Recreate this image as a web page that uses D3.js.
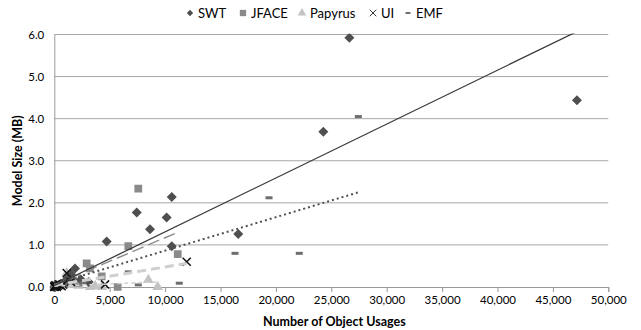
<!DOCTYPE html>
<html>
<head>
<meta charset="utf-8">
<script src="https://cdn.jsdelivr.net/npm/d3@7"></script>
<style>
  body { margin: 0; background: #fff; }
  svg text { font-family: Lato, "Open Sans", sans-serif; fill: #000; }
</style>
</head>
<body>
<svg id="chart" width="641" height="330"></svg>
<script>
// series points [objectUsages, sizeMB]
const swt = [[0, 0], [60, 0.0], [120, 0.01], [180, 0.02], [250, 0.03], [400, 0.05], [600, 0.08],
  [900, 0.12], [1200, 0.2], [1500, 0.3], [1870, 0.44], [2400, 0.18], [3100, 0.12], [4730, 1.08],
  [7440, 1.77], [8640, 1.37], [10140, 1.65], [10600, 2.14], [10600, 0.97], [16600, 1.26],
  [24280, 3.69], [26630, 5.92], [47170, 4.44]];
const jface = [[0, 0], [200, 0.02], [500, 0.05], [900, 0.1], [1260, 0.2], [1700, 0.15], [2200, 0.1],
  [2920, 0.56], [3220, 0.44], [4280, 0.25], [5720, 0.0], [6680, 0.97], [7580, 2.34], [11140, 0.78]];
const papyrus = [[0, 0], [300, 0.01], [700, 0.02], [1120, 0.33], [1600, 0.05], [2200, 0.03],
  [3220, 0.0], [3700, 0.02], [4300, 0.0], [8490, 0.17], [9330, 0.0]];
const ui = [[0, 0], [30, 0.02], [60, 0.01], [100, 0.04], [150, 0.02], [220, 0.0], [300, 0.03],
  [400, 0.06], [500, 0.05], [650, 0.02], [800, 0.06], [1120, 0.33], [1500, 0.12], [4580, 0.06],
  [11950, 0.6]];
const emf = [[0, 0], [100, 0.01], [300, 0.02], [600, 0.04], [1000, 0.08], [1600, 0.12], [2600, 0.1],
  [6680, 0.36], [7580, 0.05], [11280, 0.09], [16310, 0.8], [19380, 2.12], [22110, 0.8], [27440, 4.05]];

// linear trend lines [xStart, yStart, xEnd, yEnd]
const swtTrend = [0, 0.03, 47170, 6.07];
const jfaceTrend = [0, 0.05, 11140, 1.3];
const papyrusTrend = [0, 0.02, 9330, 0.12];
const uiTrend = [0, 0.04, 11950, 0.56];
const emfTrend = [0, 0.07, 27440, 2.25];

const xTicks = [0, 5000, 10000, 15000, 20000, 25000, 30000, 35000, 40000, 45000, 50000];
const yTicks = [0, 1, 2, 3, 4, 5, 6];
const legendNames = ['SWT', 'JFACE', 'Papyrus', 'UI', 'EMF'];

const svg = d3.select('#chart');

const LEFT = 54.3, RIGHT = 608.3, TOP = 34.5, BOTTOM = 287;
const x = d3.scaleLinear().domain([0, 50000]).range([LEFT, RIGHT]);
const y = d3.scaleLinear().domain([0, 6]).range([BOTTOM, TOP]);

svg.append('clipPath').attr('id', 'plot-clip')
    .append('rect')
    .attr('x', LEFT - 8).attr('y', TOP - 1)
    .attr('width', RIGHT - LEFT + 8).attr('height', BOTTOM - TOP + 10);

// gridlines
svg.append('g')
    .selectAll('line')
    .data(yTicks.filter(d => d > 0))
    .join('line')
    .attr('x1', LEFT).attr('x2', RIGHT)
    .attr('y1', d => y(d)).attr('y2', d => y(d))
    .attr('stroke', '#a6a6a6').attr('stroke-width', 1);

// x axis
const xAxis = svg.append('g')
    .attr('transform', `translate(0,${BOTTOM})`)
    .call(d3.axisBottom(x).tickValues(xTicks).tickSize(5).tickPadding(4).tickFormat(d3.format(',')));
xAxis.select('.domain').attr('stroke', '#999');
xAxis.selectAll('.tick line').attr('stroke', '#999');
xAxis.selectAll('.tick text').attr('font-size', 11.5).attr('fill', '#000');

// y axis
const yAxis = svg.append('g')
    .attr('transform', `translate(${LEFT},0)`)
    .call(d3.axisLeft(y).tickValues(yTicks).tickSize(0).tickPadding(10).tickFormat(d3.format('.1f')));
yAxis.select('.domain').attr('stroke', '#999');
yAxis.selectAll('.tick text').attr('font-size', 11.5).attr('fill', '#000');
svg.selectAll('.tick text').style('font-family', 'Lato, "Open Sans", sans-serif');

// axis titles
svg.append('text')
    .text('Number of Object Usages')
    .attr('x', (LEFT + RIGHT) / 2 + 3).attr('y', 326)
    .attr('text-anchor', 'middle')
    .attr('font-size', 12.5).attr('font-weight', 700);

svg.append('text')
    .text('Model Size (MB)')
    .attr('transform', `translate(22,${(TOP + BOTTOM) / 2}) rotate(-90)`)
    .attr('text-anchor', 'middle')
    .attr('font-size', 12.5).attr('font-weight', 700);

const plot = svg.append('g').attr('clip-path', 'url(#plot-clip)');

// markers
const diamond = d3.symbol().type(d3.symbolSquare).size(50);
const square = d3.symbol().type(d3.symbolSquare).size(60);
const triangle = d3.symbol().type(d3.symbolTriangle).size(50);
const cross = d3.symbol().type(d3.symbolTimes).size(45);

function drawSymbols(data, gen, fill, stroke, rot) {
    plot.append('g')
        .selectAll('path')
        .data(data)
        .join('path')
        .attr('d', gen)
        .attr('transform', d => `translate(${x(d[0])},${y(d[1])}) rotate(${rot || 0})`)
        .attr('fill', stroke ? 'none' : fill)
        .attr('stroke', stroke ? fill : 'none')
        .attr('stroke-width', stroke ? 1.5 : 0);
}

drawSymbols(papyrus, triangle, '#c3c3c3');
drawSymbols(jface, square, '#8a8a8a');
drawSymbols(swt, diamond, '#4f4f4f', false, 45);

plot.append('g')
    .selectAll('rect')
    .data(emf)
    .join('rect')
    .attr('x', d => x(d[0]) - 3.5).attr('y', d => y(d[1]) - 1.5)
    .attr('width', 7).attr('height', 3)
    .attr('fill', '#6e6e6e');

drawSymbols(ui, cross, '#111', true);

// trend lines
function drawTrend(t, color, width, dash) {
    plot.append('line')
        .attr('x1', x(t[0])).attr('y1', y(t[1]))
        .attr('x2', x(t[2])).attr('y2', y(t[3]))
        .attr('stroke', color).attr('stroke-width', width)
        .attr('stroke-dasharray', dash);
}
drawTrend(papyrusTrend, '#d0d0d0', 1.5, '4,3');
drawTrend(uiTrend, '#cfcfcf', 3, '9,5');
drawTrend(jfaceTrend, '#8c8c8c', 1.4, '12,5');
drawTrend(emfTrend, '#505050', 2, '2,3');
drawTrend(swtTrend, '#3a3a3a', 1.3, null);

// legend
const legendX = [190, 243, 302, 373, 408];
const legend = svg.append('g');
legendNames.forEach((name, i) => {
    const g = legend.append('g').attr('transform', `translate(${legendX[i]},13)`);
    if (i === 0) g.append('path').attr('d', d3.symbol().type(d3.symbolSquare).size(20)).attr('transform', 'rotate(45)').attr('fill', '#4f4f4f');
    if (i === 1) g.append('path').attr('d', d3.symbol().type(d3.symbolSquare).size(40)).attr('fill', '#8a8a8a');
    if (i === 2) g.append('path').attr('d', d3.symbol().type(d3.symbolTriangle).size(32)).attr('fill', '#c3c3c3');
    if (i === 3) g.append('path').attr('d', d3.symbol().type(d3.symbolTimes).size(30)).attr('fill', 'none').attr('stroke', '#333').attr('stroke-width', 1);
    if (i === 4) g.append('rect').attr('x', -2.5).attr('y', -1).attr('width', 5).attr('height', 2).attr('fill', '#6e6e6e');
    g.append('text')
        .text(name)
        .attr('x', 8).attr('y', 4.5)
        .attr('font-size', 13);
});
</script>
</body>
</html>
